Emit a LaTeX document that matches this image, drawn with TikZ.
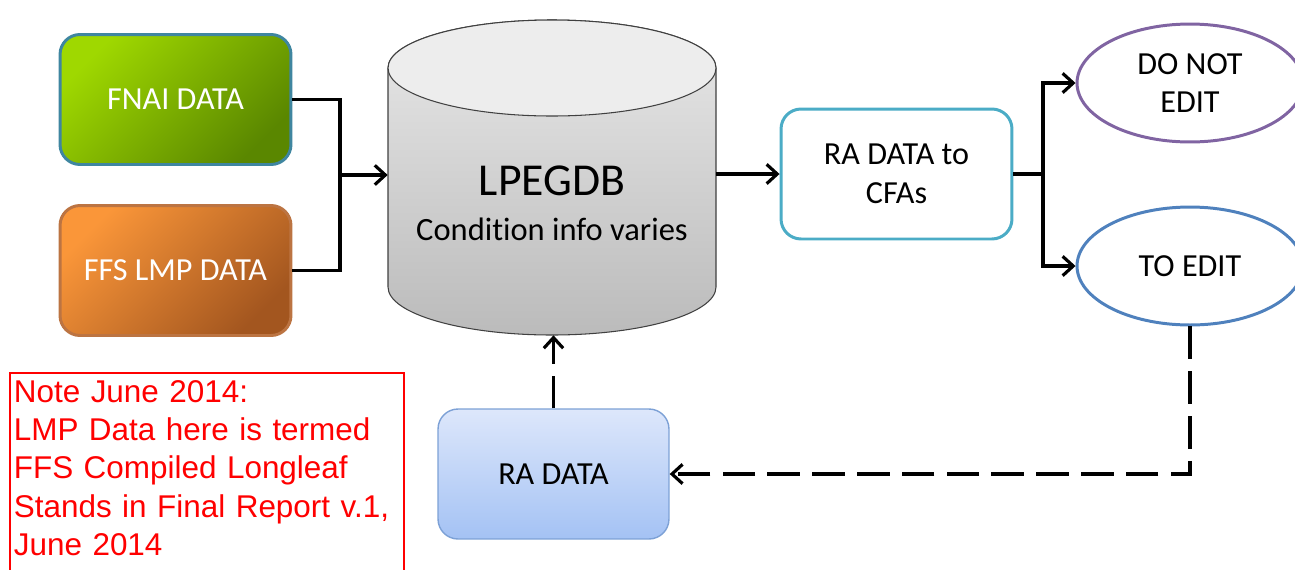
\documentclass[tikz,border=0pt]{standalone}
\usepackage{fontspec}
\setmainfont[Ligatures=NoCommon]{Carlito}
\newfontfamily\notefont{Liberation Sans}
\usetikzlibrary{shapes.geometric,arrows.meta}
\definecolor{fnaiA}{HTML}{9FD800}
\definecolor{fnaiB}{HTML}{5A8700}
\definecolor{fnaiLine}{HTML}{3F86A0}
\definecolor{ffsA}{HTML}{FA9639}
\definecolor{ffsB}{HTML}{A3561F}
\definecolor{ffsLine}{HTML}{BC7442}
\definecolor{cfaLine}{HTML}{4BACC6}
\definecolor{donotLine}{HTML}{8064A2}
\definecolor{toeditLine}{HTML}{4F81BD}
\definecolor{raTop}{HTML}{DDE7FB}
\definecolor{raBot}{HTML}{A4C2F4}
\definecolor{raLine}{HTML}{7DA1D6}
\definecolor{cylTop}{HTML}{E8E8E8}
\definecolor{cylBot}{HTML}{BBBBBB}
\definecolor{cylCap}{HTML}{EDEDED}

\begin{document}
\begin{tikzpicture}[x=0.02cm,y=-0.02cm,
  every node/.style={inner sep=0pt,align=center,font=\fontsize{18.3}{22}\selectfont},
  box/.style={rectangle,rounded corners=0.4cm,minimum width=4.62cm,minimum height=2.6cm,line width=1.7pt},
  oval/.style={ellipse,minimum width=4.52cm,minimum height=2.36cm,line width=1.7pt},
  link/.style={line width=1.8pt},
  arr/.style={link,-{Straight Barb[length=6pt,width=11pt]}},
  dasharr/.style={arr,dash pattern=on 18.5pt off 7pt}]
\useasboundingbox (0,0) rectangle (1295,569);

% inputs
\node[box,draw=fnaiLine,top color=fnaiA,bottom color=fnaiB,shading angle=45,text=white] (fnai) at (175.5,99.5) {FNAI DATA};
\node[box,draw=ffsLine,top color=ffsA,bottom color=ffsB,shading angle=45,text=white] (ffs) at (175.5,270.5) {FFS LMP DATA};

% database cylinder
\shade[top color=cylTop,bottom color=cylBot,draw=black!75,line width=0.6pt] (388,68) -- (388,287)
  arc[start angle=180,end angle=0,x radius=164,y radius=48] -- (716,68)
  arc[start angle=0,end angle=-180,x radius=164,y radius=48] -- cycle;
\draw[fill=cylCap,draw=black!75,line width=0.6pt] (552,68) ellipse[x radius=164,y radius=48];
\node[minimum width=6.56cm,minimum height=6.3cm] (db) at (552,177.5) {};
\node[font=\fontsize{18.5}{25.6}\selectfont] (dbtext) at (552,203) {{\fontsize{26}{25.6}\selectfont LPEGDB}\\Condition info varies};

\node[box,draw=cfaLine,fill=white] (cfa) at (896.5,174) {RA DATA to\\CFAs};
\node[oval,draw=donotLine] (donot) at (1190,83) {DO NOT\\EDIT};
\node[oval,draw=toeditLine] (toedit) at (1190,266) {TO EDIT};
\node[box,draw=raLine,line width=0.8pt,top color=raTop,bottom color=raBot] (ra) at (553.5,474) {RA DATA};

% note, its frame runs off the page
\node[anchor=north west,text width=7.72cm,align=left,inner xsep=2pt,inner ysep=4pt,
  text=red,font=\notefont\fontsize{17.9}{21.8}\selectfont] (note) at (10,373)
  {Note June 2014:\\LMP Data here is termed\\FFS Compiled Longleaf\\Stands in Final Report v.1,\\June 2014};
\draw[red,line width=1.2pt] (note.north west) rectangle (note.east |- 0,590);

% connectors
\coordinate (join) at (340,175);
\foreach \s in {fnai,ffs}{
\draw[link] (\s.east) -| (join);}
\draw[arr] (join) -- (join -| db.west);
\draw[arr] (db.east |- cfa.west) -- (cfa.west);

\coordinate (split) at (1043,174);
\draw[link] (cfa.east) -- (split);
\foreach \e in {donot,toedit}{
\draw[arr] (split) |- (\e.west);}

\draw[dasharr] (toedit.south) |- (ra.east);
\draw[dasharr] (ra.north) -- (ra.north |- db.south);

\end{tikzpicture}
\end{document}
